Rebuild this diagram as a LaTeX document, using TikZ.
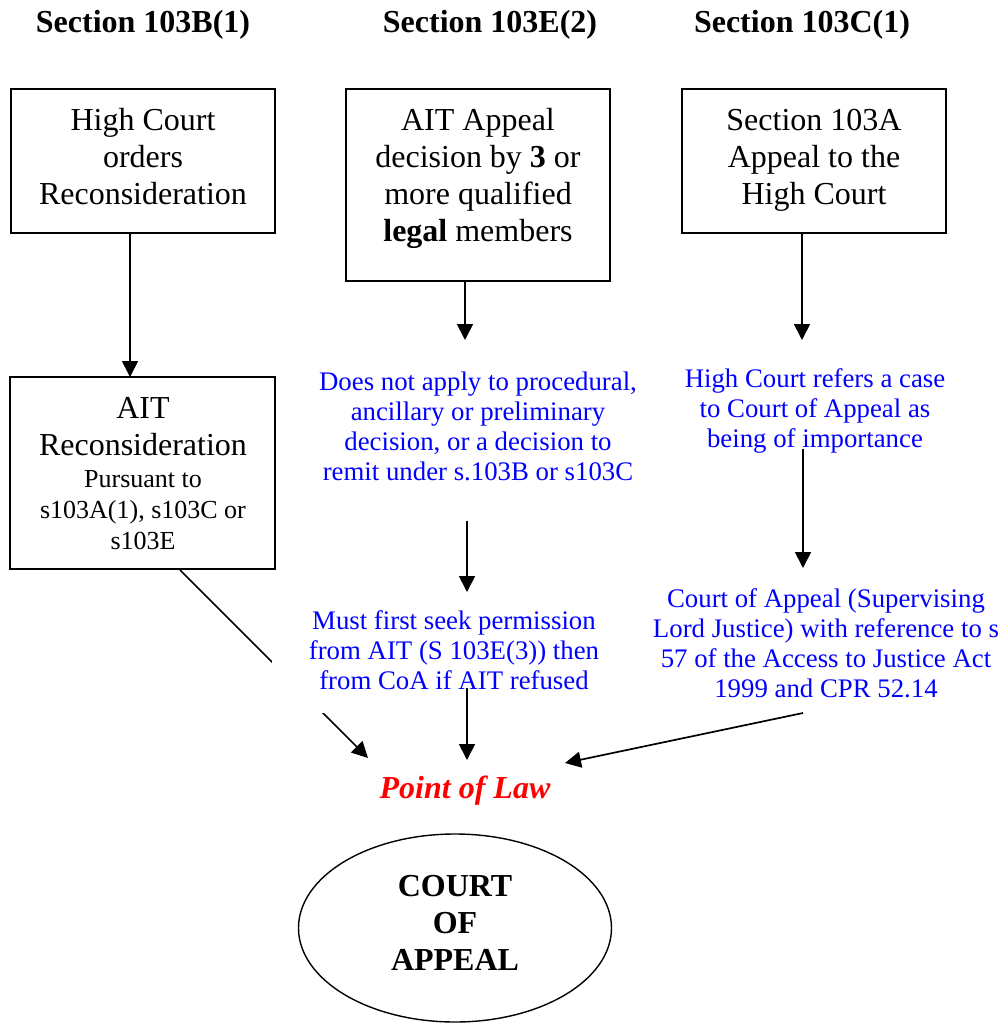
\documentclass[tikz,border=0pt]{standalone}
\usepackage{fontspec}
\setmainfont{Liberation Serif}
\usetikzlibrary{arrows.meta,shapes.geometric}
\begin{document}
\begin{tikzpicture}[x=0.5pt,y=-0.5pt,
  box/.style={draw,line width=1pt,minimum width=132pt,minimum height=#1,inner sep=0pt},
  btxt/.style={align=center,font=\fontsize{16}{18.5}\selectfont,inner sep=0pt},
  stxt/.style={align=center,font=\fontsize{13}{15.5}\selectfont,inner sep=0pt},
  note/.style={align=center,text=blue,font=\fontsize{13.4}{15}\selectfont,inner sep=0pt},
  head/.style={font=\fontsize{16}{18.5}\selectfont\bfseries,inner sep=0pt},
  arr/.style={-{Triangle[length=8pt,width=8pt]},line width=0.85pt}]
\useasboundingbox (0,0) rectangle (1003,1024);
% headers
\node[head] (h1) at (143,25) {Section 103B(1)};
\node[head] (h2) at (490,25) {Section 103E(2)};
\node[head] (h3) at (802,25) {Section 103C(1)};
% boxes
\node[box=72pt] (b1) at (143,161) {};
\node[btxt] (b1t) at (143,157) {High Court\\orders\\Reconsideration};
\node[box=96pt] (b2) at (478,185) {};
\node[btxt] (b2t) at (478,178) {AIT Appeal\\decision by \textbf{3} or\\more qualified\\\textbf{legal} members};
\node[box=72pt] (b3) at (814,161) {};
\node[btxt] (b3t) at (814,160) {Section 103A\\Appeal to the\\High Court};
\node[box=96pt,minimum width=132.5pt] (b4) at (142.5,473) {};
\node[btxt] (b4t) at (143,427) {AIT\\Reconsideration};
\node[stxt] (b4s) at (143,510) {Pursuant to\\s103A(1), s103C or\\s103E};
% notes
\node[note] (n1) at (478,426) {Does not apply to procedural,\\ancillary or preliminary\\decision, or a decision to\\remit under s.103B or s103C};
\node[note] (n3) at (815,411) {High Court refers a case\\to Court of Appeal as\\being of importance};
\node[note] (n4) at (826,643) {Court of Appeal (Supervising\\Lord Justice) with reference to s\\57 of the Access to Justice Act\\1999 and CPR 52.14};
\node[inner sep=0pt,text=red,font=\fontsize{16}{18.5}\selectfont\bfseries\itshape] (pol) at (465,791) {Point of Law};
\node[draw,ellipse,line width=0.7pt,minimum width=156.5pt,minimum height=94pt,inner sep=0pt] (ca) at (455,928) {};
\node[btxt,font=\fontsize{16}{18.5}\selectfont\bfseries] (cat) at (455,923) {COURT\\OF\\APPEAL};
% tip coordinates
\coordinate (t0) at (130,377);
\coordinate (t1) at (465,340);
\coordinate (t2) at (802,340);
\coordinate (t3) at (467,592);
\coordinate (t4) at (467,760);
\coordinate (t5) at (803,568);
\coordinate (t6) at (565,763);
\coordinate (t7) at (368,758);
% diagonal arrow (under the white note)
\draw[arr] ([xshift=18.75pt]b4.south) -- (t7);
\node[note,fill=white,minimum width=182pt,minimum height=63pt] (n2) at (454,650) {Must first seek permission\\from AIT (S 103E(3)) then\\from CoA if AIT refused};
% arrows
\draw[arr] (b1.south -| t0) -- (t0);
\draw[arr] (b2.south -| t1) -- (t1);
\draw[arr] (b3.south -| t2) -- (t2);
\draw[arr] ([shift={(-11,40)}]n1.south) -- (t3);
\draw[arr] ([shift={(13,38)}]n2.center) -- (t4);
\draw[arr] ([shift={(-12,38)}]n3.center) -- (t5);
\draw[arr] ([shift={(-23,70)}]n4.center) -- (t6);
\end{tikzpicture}
\end{document}
